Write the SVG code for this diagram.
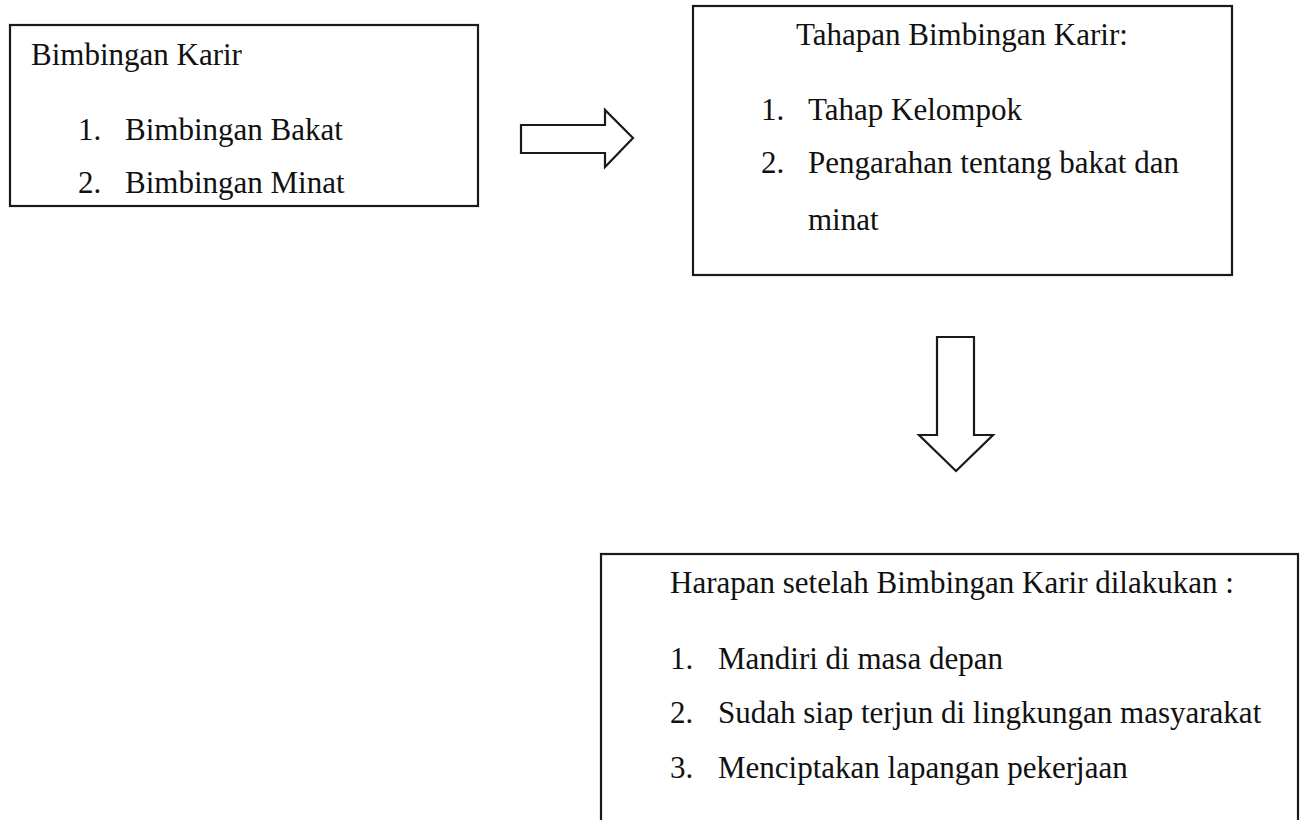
<svg xmlns="http://www.w3.org/2000/svg" width="1304" height="820" viewBox="0 0 1304 820">
<style>
.box{fill:#fff;stroke:#1a1a1a;stroke-width:2.2}
.arr{fill:#fff;stroke:#1a1a1a;stroke-width:2.2;stroke-linejoin:miter}
text{font-family:"Liberation Serif","Times New Roman",serif;font-size:31px;fill:#111}
</style>
<rect width="1304" height="820" fill="#fff"/>
<g id="node-bimbingan-karir">
<rect class="box" x="10" y="25" width="468" height="181"/>
<text x="31" y="65">Bimbingan Karir</text>
<text x="78" y="140">1.</text><text x="125" y="140">Bimbingan Bakat</text>
<text x="78" y="193">2.</text><text x="125" y="193">Bimbingan Minat</text>
</g>
<g id="node-tahapan">
<rect class="box" x="693" y="6" width="539" height="269"/>
<text x="796" y="45">Tahapan Bimbingan Karir:</text>
<text x="761" y="120">1.</text><text x="808" y="120">Tahap Kelompok</text>
<text x="761" y="173">2.</text><text x="808" y="173">Pengarahan tentang bakat dan</text>
<text x="808" y="230">minat</text>
</g>
<g id="node-harapan">
<rect class="box" x="601" y="554" width="697" height="300"/>
<text x="670" y="593">Harapan setelah Bimbingan Karir dilakukan :</text>
<text x="670" y="669">1.</text><text x="718" y="669">Mandiri di masa depan</text>
<text x="670" y="723">2.</text><text x="718" y="723">Sudah siap terjun di lingkungan masyarakat</text>
<text x="670" y="778">3.</text><text x="718" y="778">Menciptakan lapangan pekerjaan</text>
</g>
<g id="connectors">
<polygon class="arr" points="521,125 605,125 605,110 633,138 605,167 605,153 521,153"/>
<polygon class="arr" points="937,337 974,337 974,435 993,435 956,471 919,435 937,435"/>
</g>
</svg>
